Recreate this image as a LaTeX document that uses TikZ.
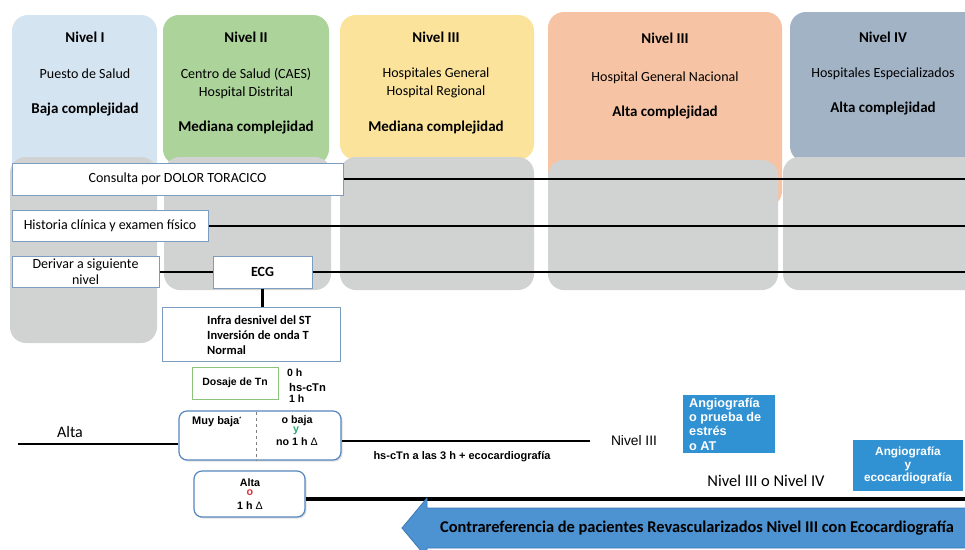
\documentclass[tikz,border=0pt]{standalone}
\usepackage{fontspec}
\setmainfont{Carlito}
\newfontfamily\arialf{Liberation Sans}
\usetikzlibrary{shadows}

\definecolor{lvlone}{HTML}{D5E4F1}
\definecolor{lvltwo}{HTML}{ABD39A}
\definecolor{lvlthree}{HTML}{FBE39B}
\definecolor{lvlthreeb}{HTML}{F6C4A4}
\definecolor{lvlfour}{HTML}{A3B3C6}
\definecolor{panelgrey}{HTML}{D1D2D2}
\definecolor{boxedge}{HTML}{7C9CC0}
\definecolor{tnedge}{HTML}{8DC27A}
\definecolor{riskedge}{HTML}{5587BE}
\definecolor{procblue}{HTML}{3192D3}
\definecolor{arrowblue}{HTML}{4D93D2}
\definecolor{arrowedge}{HTML}{3C78B4}
\definecolor{ygreen}{HTML}{2BAA6E}
\definecolor{ored}{HTML}{E0303A}

\tikzset{
  panel/.style={rounded corners=16pt},
  greypanel/.style={panel, fill=panelgrey},
  head/.style={font=\fontsize{15}{18}\selectfont\bfseries, align=center, inner sep=0pt},
  body/.style={font=\fontsize{14}{18.5}\selectfont, align=center, inner sep=0pt},
  flowbox/.style={draw=boxedge, line width=1pt, fill=white, inner sep=0pt,
    font=\fontsize{14}{17}\selectfont, align=center},
  link/.style={line width=2.7pt, black},
  arialtxt/.style={font=\arialf\fontsize{10.7}{12}\selectfont\bfseries, inner sep=0pt, align=center},
  riskbox/.style={draw=riskedge, line width=1.2pt, fill=white, rounded corners=8pt, inner sep=0pt,
    drop shadow={opacity=0.25, shadow xshift=1.5pt, shadow yshift=-1.5pt}},
  procbox/.style={fill=procblue, inner sep=0pt},
  plain/.style={font=\fontsize{16}{19}\selectfont, inner sep=0pt}
}

\begin{document}
\begin{tikzpicture}[x=1pt,y=-1pt]
\useasboundingbox (0,0) rectangle (965,549);
\clip (0,0) rectangle (965,549);
\fill[white] (0,0) rectangle (965,549);

% level panels
\fill[panel, lvlone] (12,15) rectangle (157,200);
\fill[panel, lvltwo] (163,15) rectangle (329,165);
\fill[panel, lvlthree] (340,15) rectangle (534,160);
\fill[panel, lvlthreeb] (548,12) rectangle (782,207);
\fill[panel, lvlfour] (790,12) rectangle (990,162);

% grey lanes
\fill[greypanel] (10,157) rectangle (157,343);
\fill[greypanel] (164,157) rectangle (331,290);
\fill[greypanel] (340,157) rectangle (534,290);
\fill[greypanel] (548,160) rectangle (778,290);
\fill[greypanel] (783,157) rectangle (990,290);

% level titles
\node[head] (t1) at (85,37) {Nivel I};
\node[body] (s1) at (85,74) {Puesto de Salud};
\node[head] (c1) at (85,110) {Baja complejidad};

\node[head] (t2) at (246,37) {Nivel II};
\node[body] (s2) at (246,83.5) {Centro de Salud (CAES)\\Hospital Distrital};
\node[head] (c2) at (246,128) {Mediana complejidad};

\node[head] (t3) at (436,37) {Nivel III};
\node[body] (s3) at (436,83) {Hospitales General\\Hospital Regional};
\node[head] (c3) at (436,128) {Mediana complejidad};

\node[head] (t3b) at (665,38) {Nivel III};
\node[body] (s3b) at (665,78) {Hospital General Nacional};
\node[head] (c3b) at (665,113) {Alta complejidad};

\node[head] (t4) at (883,37) {Nivel IV};
\node[body] (s4) at (883,74) {Hospitales Especializados};
\node[head] (c4) at (883,109) {Alta complejidad};

% right edge reference
\coordinate (edge) at (965,0);

% flow boxes
\node[flowbox, minimum width=331pt, minimum height=32pt] (consulta) at (177.5,179) {Consulta por DOLOR TORACICO};
\node[flowbox, minimum width=196pt, minimum height=31pt] (historia) at (110,226) {Historia clínica y examen físico};
\node[flowbox, minimum width=147pt, minimum height=31pt, font=\fontsize{14}{16}\selectfont] (derivar) at (85.5,272) {Derivar a siguiente\\nivel};
\node[flowbox, minimum width=99pt, minimum height=32pt, font=\fontsize{14}{17}\selectfont\bfseries] (ecg) at (262.5,272) {ECG};
\node[flowbox, minimum width=178pt, minimum height=54pt] (infra) at (251,334) {};
\node[anchor=west, inner sep=0pt, align=left, font=\fontsize{12.5}{15}\selectfont\bfseries] (infratxt) at (207,335) {Infra desnivel del ST\\Inversión de onda T\\Normal};

% connectors
\draw[link] (consulta.east) -- (consulta.east -| edge);
\draw[link] (historia.east) -- (historia.east -| edge);
\draw[link] (derivar.east) -- (ecg.west);
\draw[link] (ecg.east) -- (ecg.east -| edge);
\draw[link] (ecg.south) -- (ecg.south |- infra.north);

% troponin
\node[draw=tnedge, line width=1pt, fill=white, minimum width=86pt, minimum height=32pt, inner sep=0pt,
  font=\arialf\fontsize{10.5}{12}\selectfont\bfseries] (dosaje) at (235,383) {Dosaje de Tn};
\node[arialtxt, anchor=west, font=\arialf\fontsize{10.5}{12}\selectfont\bfseries] (h0) at (287,373) {0 h};
\node[arialtxt, anchor=west, font=\arialf\fontsize{11.2}{12}\selectfont\bfseries] (hs) at (289,387) {hs-cTn};
\node[arialtxt, anchor=west, font=\arialf\fontsize{10.5}{12}\selectfont\bfseries] (h1) at (289,399) {1 h};

% risk boxes
\node[riskbox, minimum width=162pt, minimum height=49pt] (muybaja) at (260,435.5) {};
\draw[gray, dashed, line width=0.8pt] (muybaja.north) ++(-4,2) coordinate (dv1) -- (dv1 |- muybaja.south);
\node[arialtxt, anchor=west, font=\arialf\fontsize{11}{12}\selectfont\bfseries] (mb) at (192,422) {Muy baja\textsuperscript{\tiny *}};
\node[arialtxt] (ob) at (297,421) {o baja};
\node[arialtxt, text=ygreen] (ylet) at (296,431) {y};
\node[arialtxt] (no1) at (297,441.5) {no 1 h {\mdseries Δ}};

\node[riskbox, minimum width=111pt, minimum height=46pt] (altabox) at (249.5,494) {};
\node[arialtxt] (alt) at (250,483) {Alta};
\node[arialtxt, text=ored] (oalt) at (250,493) {o};
\node[arialtxt] (h1d) at (250,506) {1 h {\mdseries Δ}};

% outcome lines
\coordinate (altaL) at (18,444);
\draw[link] (altaL) -- (altaL -| muybaja.west);
\node[plain] (altalbl) at (70,432) {Alta};

\coordinate (n3end) at (590,441);
\draw[link] (n3end -| muybaja.east) -- (n3end);
\node[arialtxt, font=\arialf\fontsize{11}{12}\selectfont\bfseries] (hs3) at (462,457) {hs-cTn a las 3 h + ecocardiografía};
\node[plain, font=\arialf\fontsize{13.8}{16}\selectfont] (nv3) at (634,441) {Nivel III};

\coordinate (altaend) at (965,499);
\draw[line width=3.2pt] (altabox.east |- altaend) -- (altaend);
\node[plain, font=\fontsize{16.5}{19}\selectfont] (nv34) at (766,481) {Nivel III o Nivel IV};

% procedures
\node[procbox, minimum width=92pt, minimum height=58pt] (angio1) at (729,424) {};
\node[anchor=north west, inner sep=0pt, align=left, text=white,
  font=\arialf\fontsize{12.7}{14.2}\selectfont\bfseries] (angio1txt) at (689,398) {Angiografía\\o prueba de\\estrés\\o AT};
\node[procbox, minimum width=110pt, minimum height=51pt, text=white, align=center,
  font=\arialf\fontsize{11.8}{12.6}\selectfont\bfseries] (angio2) at (908,465.5) {Angiografía\\y\\ecocardiografía};

% counter-referral arrow
\filldraw[fill=arrowblue, draw=arrowedge, line width=0.8pt]
  (402,528) -- (427,498) -- (427,508) -- (995,508) -- (995,548) -- (427,548) -- (427,558) -- cycle;
\node[anchor=west, inner sep=0pt, font=\fontsize{16.4}{19}\selectfont\bfseries] (contra) at (440,528)
  {Contrareferencia de pacientes Revascularizados Nivel III con Ecocardiografía};
\end{tikzpicture}
\end{document}
